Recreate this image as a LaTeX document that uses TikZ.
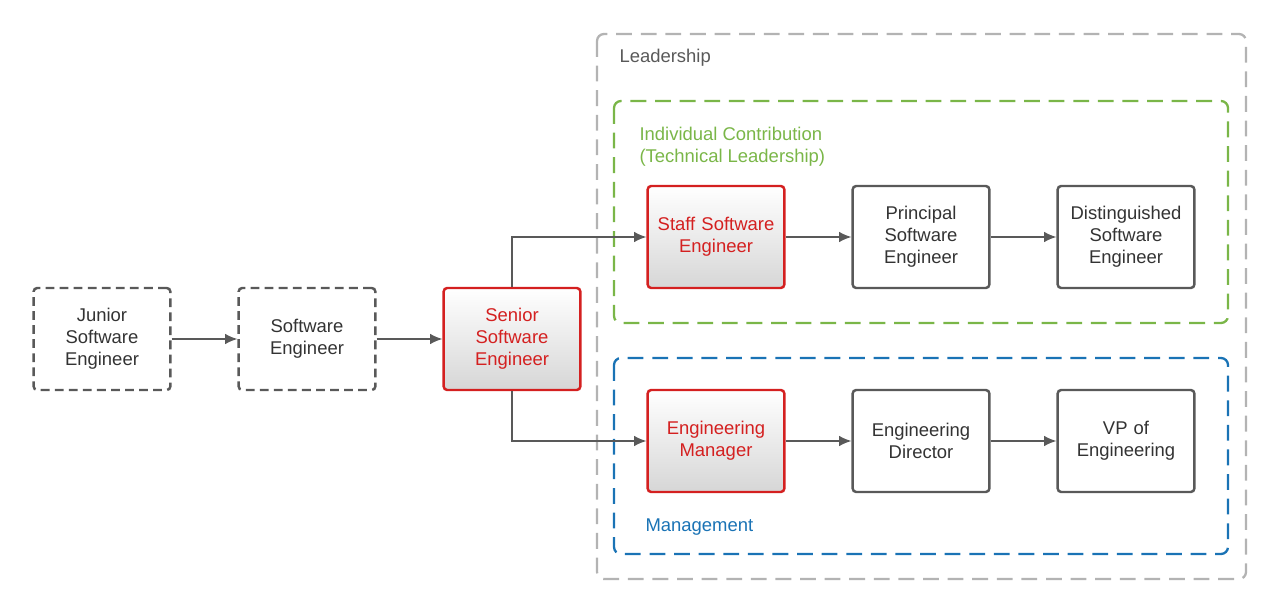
\documentclass[tikz,border=0pt]{standalone}
\usepackage{fontspec}
\setmainfont{Liberation Sans}
\usetikzlibrary{arrows.meta,positioning}
\definecolor{txtgray}{HTML}{333333}
\definecolor{linegray}{HTML}{595959}
\definecolor{leadgray}{HTML}{B3B3B3}
\definecolor{icgreen}{HTML}{7AB648}
\definecolor{mgblue}{HTML}{1A73B5}
\definecolor{stepred}{HTML}{D42020}
\begin{document}
\begin{tikzpicture}[x=0.02cm,y=-0.02cm,
            every node/.style={font=\fontsize{10.5}{12.5}\selectfont,text=txtgray},
            role/.style={draw=linegray,line width=1.4pt,rounded corners=2pt,minimum width=2.72cm,minimum height=2.04cm,align=center,text width=2.5cm},
            entry/.style={role,dashed,dash pattern=on 5pt off 3pt},
            focus/.style={role,draw=stepred,text=stepred,top color=white,bottom color=black!16},
            group/.style={line width=1.3pt,rounded corners=4pt,dash pattern=on 9pt off 5pt},
            every path/.style={line width=0.8pt},
            link/.style={draw=linegray,-{Latex[length=7pt,width=6pt]}}
          ]
          \useasboundingbox (0,0) rectangle (1280,614);
          %groups
          \draw[group,draw=leadgray] (597,34) rectangle (1246,579);
          \draw[group,draw=icgreen] (614,101) rectangle (1228,323);
          \draw[group,draw=mgblue] (614,358) rectangle (1228,554);
          \node[anchor=west,text=linegray] (lead) at (613,58) {Leadership};
          \node[anchor=west,align=left,text=icgreen] (ic) at (633,147) {Individual Contribution\\(Technical Leadership)};
          \node[anchor=west,text=mgblue] (mg) at (639,527) {Management};

          %roles
          \node[entry] (junior) at (102,339) {Junior\\Software\\Engineer};
          \node[entry] (swe) at (307,339) {Software\\Engineer};
          \node[focus] (senior) at (512,339) {Senior\\Software\\Engineer};
          \node[focus] (staff) at (716,237) {Staff Software\\Engineer};
          \node[role] (principal) at (921,237) {Principal\\Software\\Engineer};
          \node[role] (dist) at (1126,237) {Distinguished\\Software\\Engineer};
          \node[focus] (em) at (716,441) {Engineering\\Manager};
          \node[role] (director) at (921,441) {Engineering\\Director};
          \node[role] (vp) at (1126,441) {VP of\\Engineering};

          \path[link] (junior) -- (swe);
          \path[link] (swe) -- (senior);
          \path[link] (senior.north) |- (staff.west);
          \path[link] (senior.south) |- (em.west);
          \path[link] (staff) -- (principal);
          \path[link] (principal) -- (dist);
          \path[link] (em) -- (director);
          \path[link] (director) -- (vp);
\end{tikzpicture}
\end{document}
